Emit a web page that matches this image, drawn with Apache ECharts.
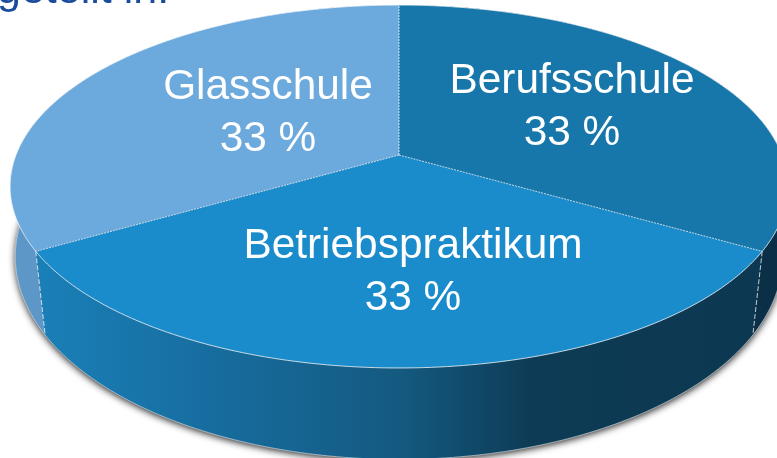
<!DOCTYPE html>
<html>
<head>
<meta charset="utf-8">
<title>Pie</title>
<style>
  html, body { margin: 0; padding: 0; background: #fff; overflow: hidden; }
  #main { width: 777px; height: 458px; }
</style>
<script src="https://cdn.jsdelivr.net/npm/echarts@6/dist/echarts.min.js"></script>
</head>
<body>
<div id="main"></div>
<script>
const categories = ['Berufsschule', 'Betriebspraktikum', 'Glasschule'];
const values = [33, 33, 33];
const percentLabels = ['33 %', '33 %', '33 %'];
const heading = 'geteilt in:';

const topColors = ['#1777AA', '#1B8CCB', '#6CA9DD'];
const wallColors = [
  '#0A2F47',
  new echarts.graphic.LinearGradient(0, 0, 1, 0, [
    { offset: 0, color: '#1A80B8' },
    { offset: 0.25, color: '#176C9E' },
    { offset: 0.5, color: '#145A80' },
    { offset: 0.69, color: '#0D3A54' },
    { offset: 1, color: '#0D3852' }
  ]),
  '#5C97C8'
];
// label centres, hand placed like in the slide
const labelPos = [[572, 107], [413, 272], [268, 113]];

// the disc is drawn with a small perspective: hub sits above the middle of the ellipse
const topFace = { x: 399, y: 155, rx: 383, ry: 176, persp: 0.1736 };
const bottomFace = { x: 399, y: 228, rx: 380, ry: 199, persp: 0.14 };

function project(face, deg) {
  const a = deg * Math.PI / 180;
  const u = Math.sin(a);
  const v = -Math.cos(a);
  const w = 1 - face.persp * v;
  return [face.x + face.rx * u / w, face.y + face.ry * v / w];
}

function arc(face, from, to) {
  const pts = [];
  const n = Math.max(2, Math.ceil(Math.abs(to - from)));
  for (let i = 0; i <= n; i++) {
    pts.push(project(face, from + (to - from) * i / n));
  }
  return pts;
}

const total = values.reduce((s, d) => s + d, 0);
const startDeg = [];
values.reduce((s, d, i) => {
  startDeg[i] = s / total * 360;
  return s + d;
}, 0);

const lineStyle = { fill: null, stroke: 'rgba(255,255,255,0.75)', lineWidth: 1 };

function renderSlice(params, api) {
  const i = params.dataIndex;
  const from = startDeg[i];
  const to = from + api.value(0) / total * 360;
  const hub = [topFace.x, topFace.y];
  const children = [];

  // silhouette with the soft shadow, only once under everything
  if (i === 0) {
    children.push({
      type: 'polygon',
      z2: 0,
      shape: { points: arc(bottomFace, 0, 360) },
      style: { fill: '#0D3852', shadowBlur: 7, shadowColor: 'rgba(0,0,0,0.85)', shadowOffsetY: 2 }
    });
  }

  children.push({
    type: 'polygon',
    z2: 1,
    shape: { points: arc(topFace, from, to).concat(arc(bottomFace, to, from)) },
    style: { fill: wallColors[i] }
  });

  children.push({
    type: 'polygon',
    z2: 2,
    shape: { points: [hub].concat(arc(topFace, from, to)) },
    style: { fill: topColors[i] }
  });

  children.push({
    type: 'polyline',
    z2: 3,
    shape: { points: arc(topFace, from, to) },
    style: lineStyle
  });

  // lower rim of the wall, hidden under the top face at the back
  children.push({
    type: 'polyline',
    z2: 1,
    shape: { points: arc(bottomFace, from, to) },
    style: Object.assign({}, lineStyle, { stroke: 'rgba(255,255,255,0.55)' })
  });

  children.push({
    type: 'polyline',
    z2: 3,
    shape: { points: [hub, project(topFace, to)] },
    style: Object.assign({}, lineStyle, { lineDash: [2, 1] })
  });

  if (to % 360 !== 0) {
    children.push({
      type: 'polyline',
      z2: 3,
      shape: { points: [project(topFace, to), project(bottomFace, to)] },
      style: Object.assign({}, lineStyle, { lineDash: [5, 2] })
    });
  }

  children.push({
    type: 'text',
    z2: 4,
    x: labelPos[i][0],
    y: labelPos[i][1],
    style: {
      text: categories[i] + '\n' + percentLabels[i],
      fill: '#fff',
      font: '42.4px "Liberation Sans"',
      lineHeight: 52,
      align: 'center',
      verticalAlign: 'middle'
    }
  });

  return { type: 'group', children: children };
}

const myChart = echarts.init(document.getElementById('main'));
myChart.setOption({
  backgroundColor: '#fff',
  animation: false,
  graphic: [{
    type: 'text',
    x: -3,
    y: -30,
    style: {
      text: heading,
      fill: '#1B4C9C',
      font: '43px "Liberation Sans"'
    }
  }],
  series: [{
    type: 'custom',
    coordinateSystem: 'none',
    silent: true,
    clip: false,
    data: values.map((d, i) => ({ name: categories[i], value: [d] })),
    renderItem: renderSlice
  }]
});
</script>
</body>
</html>
